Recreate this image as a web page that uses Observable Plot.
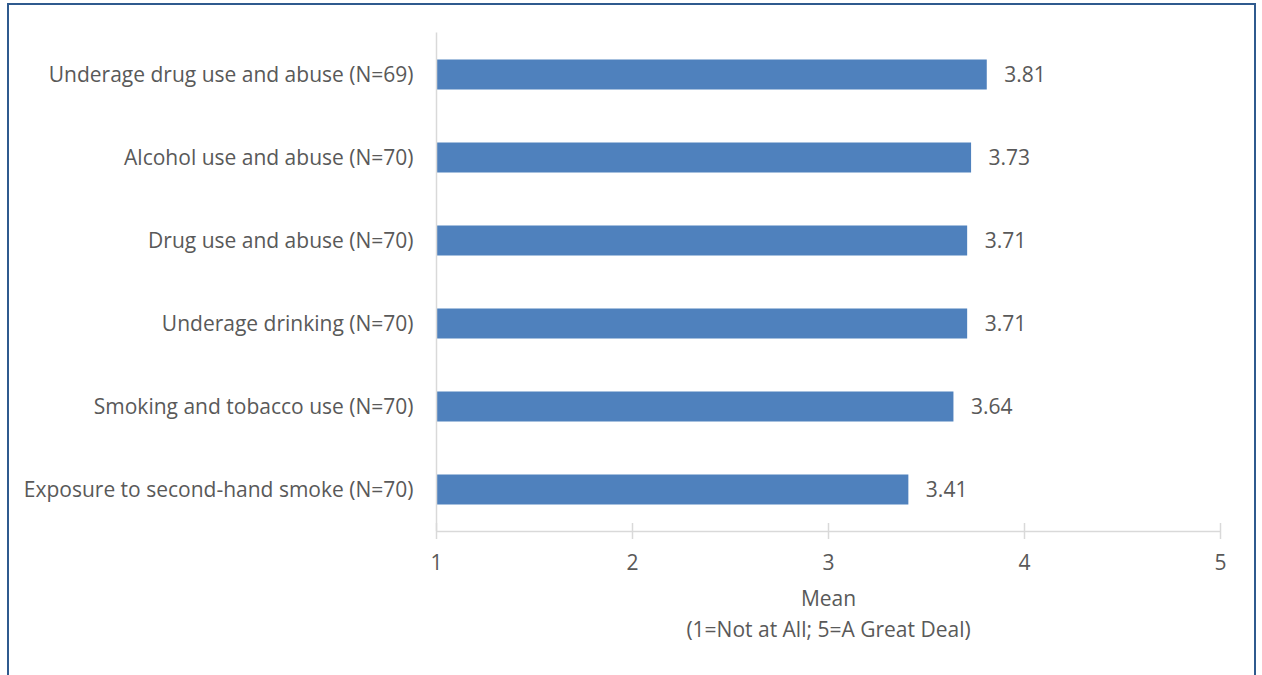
<!DOCTYPE html>
<html>
<head>
<meta charset="utf-8">
<script src="https://cdn.jsdelivr.net/npm/d3@7"></script>
<script src="https://cdn.jsdelivr.net/npm/@observablehq/plot@0.6"></script>
<style>
  html, body { margin: 0; padding: 0; background: #fff; width: 1262px; height: 675px; overflow: hidden; }
  #frame { position: absolute; left: 7px; top: 3px; width: 1249px; height: 700px; box-sizing: border-box; border: 2px solid #2f5a8e; }
  #chart { position: absolute; left: 0; top: 0; }
</style>
</head>
<body>
<div id="frame"></div>
<div id="chart"></div>
<script>
const categories = [
  "Underage drug use and abuse (N=69)",
  "Alcohol use and abuse (N=70)",
  "Drug use and abuse (N=70)",
  "Underage drinking (N=70)",
  "Smoking and tobacco use (N=70)",
  "Exposure to second-hand smoke (N=70)"
];
const means = [3.81, 3.73, 3.71, 3.71, 3.64, 3.41];
const xTicks = [1, 2, 3, 4, 5];
const axisTitle = ["Mean", "(1=Not at All; 5=A Great Deal)"];

const data = categories.map((c, i) => ({category: c, mean: means[i]}));
const font = "'Open Sans', sans-serif";
const textColor = "#595959";
const gridColor = "#d9d9d9";
const fs = 21;

const chart = Plot.plot({
  width: 1262,
  height: 675,
  marginLeft: 436,
  marginRight: 42,
  marginTop: 32.5,
  marginBottom: 144,
  style: {fontFamily: font, fontSize: fs + "px", color: textColor, background: "transparent"},
  x: {domain: [1, 5], ticks: xTicks},
  y: {domain: categories, padding: 0},
  marks: [
    Plot.barX(data, {x1: 1, x2: "mean", y: "category", fill: "#4f81bd", insetTop: 26.5, insetBottom: 26.5}),
    Plot.text(data, {x: "mean", y: "category", text: d => d.mean.toFixed(2), textAnchor: "start", dx: 17, fill: textColor, fontSize: fs}),
    Plot.ruleX([1], {stroke: gridColor, strokeWidth: 1.5}),
    Plot.axisX({ticks: xTicks, tickSize: 16, dy: -8, tickFormat: () => "", stroke: gridColor, strokeWidth: 1.5, label: null}),
    Plot.axisX({ticks: xTicks, tickSize: 0, tickPadding: 24, tickFormat: d => String(d), fill: textColor, fontSize: fs, label: null}),
    Plot.ruleY([categories[categories.length - 1]], {stroke: gridColor, strokeWidth: 1.5, dy: 41.5}),
    Plot.axisY({tickSize: 0, tickPadding: 23, fill: textColor, fontSize: fs, label: null}),
    Plot.text([axisTitle.join("\n")], {frameAnchor: "bottom", lineAnchor: "top", dy: 52, lineHeight: 1.5, fill: textColor, fontSize: fs})
  ]
});
document.getElementById("chart").appendChild(chart);
</script>
</body>
</html>
